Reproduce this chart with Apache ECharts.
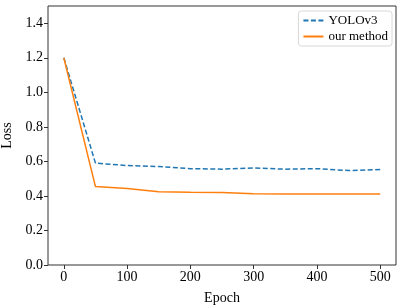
<!DOCTYPE html>
<html>
<head>
<meta charset="utf-8">
<script src="https://cdn.jsdelivr.net/npm/echarts@6/dist/echarts.min.js"></script>
<style>
  html, body { margin: 0; padding: 0; background: #fff; }
  #chart { width: 401px; height: 306px; }
</style>
</head>
<body>
<div id="chart"></div>
<script>
const epochs = [0, 50, 100, 150, 200, 250, 300, 350, 400, 450, 500]
const yolov3 = [1.2, 0.59, 0.576, 0.57, 0.558, 0.555, 0.562, 0.555, 0.558, 0.547, 0.553]
const ourMethod = [1.2, 0.454, 0.443, 0.424, 0.421, 0.42, 0.412, 0.411, 0.411, 0.411, 0.411]
const xTicks = [0, 100, 200, 300, 400, 500]
const yTicks = [0, 0.2, 0.4, 0.6, 0.8, 1.0, 1.2, 1.4]

const font = "'Liberation Serif', 'Times New Roman', serif"
const axisColor = '#333'

const chart = echarts.init(document.getElementById('chart'), null, { renderer: 'canvas' })

chart.setOption({
  animation: false,
  textStyle: { fontFamily: font },
  grid: {
    left: 48, right: 5, top: 6, bottom: 41,
    containLabel: false,
    outerBoundsMode: 'none',
    show: true, borderColor: axisColor, borderWidth: 1,
  },
  legend: {
    orient: 'vertical',
    right: 9,
    top: 11,
    itemWidth: 20,
    itemHeight: 10,
    itemGap: 3,
    padding: [3, 4, 3, 4],
    borderColor: '#d8d8d8',
    borderWidth: 1,
    borderRadius: 3,
    backgroundColor: 'rgba(255,255,255,0.8)',
    itemStyle: { opacity: 0 },
    textStyle: { fontFamily: font, fontSize: 13, color: '#000' },
    data: ['YOLOv3', 'our method'],
  },
  xAxis: {
    type: 'value',
    min: -25,
    max: 525,
    name: 'Epoch',
    nameLocation: 'middle',
    nameGap: 26,
    nameTextStyle: { fontFamily: font, fontSize: 14, color: '#000' },
    axisLine: { show: false, onZero: false },
    axisTick: { show: true, length: 4, customValues: xTicks, lineStyle: { color: axisColor } },
    axisLabel: { customValues: xTicks, fontFamily: font, fontSize: 14, color: '#000', margin: 5 },
    splitLine: { show: false },
  },
  yAxis: {
    type: 'value',
    min: 0,
    max: 1.5,
    name: 'Loss',
    nameLocation: 'middle',
    nameGap: 25,
    nameTextStyle: { fontFamily: font, fontSize: 14, color: '#000' },
    axisLine: { show: false, onZero: false },
    axisTick: { show: true, length: 4, customValues: yTicks, lineStyle: { color: axisColor } },
    axisLabel: {
      customValues: yTicks, fontFamily: font, fontSize: 14, color: '#000', margin: 5,
      formatter: (v) => v.toFixed(1),
    },
    splitLine: { show: false },
  },
  series: [
    {
      name: 'YOLOv3',
      type: 'line',
      symbol: 'none',
      lineStyle: { color: '#1f77b4', width: 1.5, type: [5, 2.5] },
      itemStyle: { color: '#1f77b4' },
      data: epochs.map((e, i) => [e, yolov3[i]]),
    },
    {
      name: 'our method',
      type: 'line',
      symbol: 'none',
      lineStyle: { color: '#ff7f0e', width: 1.5 },
      itemStyle: { color: '#ff7f0e' },
      data: epochs.map((e, i) => [e, ourMethod[i]]),
    },
  ],
})
</script>
</body>
</html>
